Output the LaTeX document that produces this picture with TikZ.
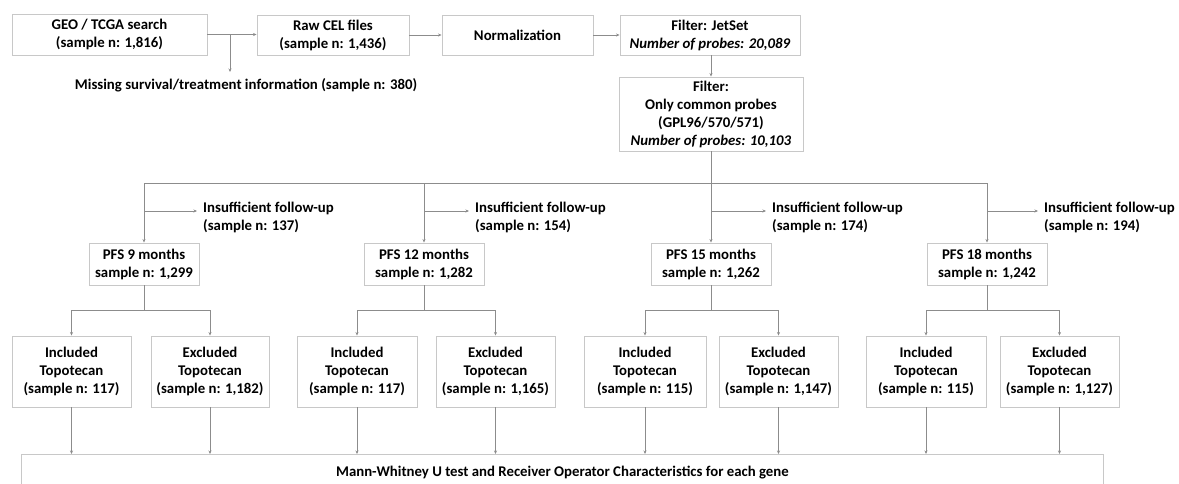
\documentclass[tikz,border=0pt]{standalone}
\usepackage{fontspec}
\setmainfont{Carlito}
\usetikzlibrary{arrows.meta}
\definecolor{boxgray}{RGB}{200,200,200}
\definecolor{linegray}{RGB}{140,140,140}
\begin{document}
\begin{tikzpicture}[x=1pt,y=-1pt,
  every node/.style={font=\fontsize{14.8}{18}\selectfont\bfseries, align=center, inner sep=0pt},
  box/.style={draw=boxgray, line width=0.9pt},
  conn/.style={draw=linegray, line width=1pt},
  arr/.style={conn, -{Stealth[length=3.5pt,width=3pt]}}]
\useasboundingbox[fill=white] (0,0) rectangle (1179,483);

% top row
\node[box, minimum width=195pt, minimum height=41pt] (geo) at (109.5,34.5) {GEO / TCGA search\\(sample n: 1,816)};
\node[box, minimum width=152pt, minimum height=40pt] (raw) at (333,35) {Raw CEL files\\(sample n: 1,436)};
\node[box, minimum width=151pt, minimum height=40pt] (norm) at (517.5,35) {Normalization};
\node[box, minimum width=180pt, minimum height=40pt] (jet) at (710,35) {Filter: JetSet\\\textit{Number of probes: 20,089}};
\node (missing) at (246,85) {Missing survival/treatment information (sample n: 380)};
\node[box, minimum width=184pt, minimum height=74pt] (filt) at (711,114) {Filter:\\Only common probes\\(GPL96/570/571)\\\textit{Number of probes: 10,103}};

\draw[arr] (geo.east) -- (geo.east -| raw.west);
\draw[arr] (raw) -- (norm);
\draw[arr] (norm) -- (jet);
\coordinate (br) at (230,34.5);
\coordinate (brend) at (230,72);
\draw[arr] (br) -- (brend);
\draw[arr] (jet.south -| filt.north) -- (filt.north);

% PFS boxes
\node[box, minimum width=110pt, minimum height=42pt] (pfs1) at (144,264) {PFS 9 months\\sample n: 1,299};
\node[box, minimum width=120pt, minimum height=42pt] (pfs2) at (424,264) {PFS 12 months\\sample n: 1,282};
\node[box, minimum width=120pt, minimum height=42pt] (pfs3) at (711,264) {PFS 15 months\\sample n: 1,262};
\node[box, minimum width=120pt, minimum height=42pt] (pfs4) at (987,264) {PFS 18 months\\sample n: 1,242};

\coordinate (bus1) at (144,183);
\coordinate (bus4) at (987,183);
\draw[conn] (bus1) -- (bus4);
\draw[arr] (filt.south) -- (pfs3.north);
\draw[arr] (pfs1.north |- bus1) -- (pfs1.north);
\draw[arr] (pfs2.north |- bus1) -- (pfs2.north);
\draw[arr] (pfs4.north |- bus1) -- (pfs4.north);

% insufficient follow-up
\node[anchor=west, align=left] (ins1) at (203,217) {Insufficient follow-up\\(sample n: 137)};
\node[anchor=west, align=left] (ins2) at (475,217) {Insufficient follow-up\\(sample n: 154)};
\node[anchor=west, align=left] (ins3) at (772,217) {Insufficient follow-up\\(sample n: 174)};
\node[anchor=west, align=left] (ins4) at (1044,217) {Insufficient follow-up\\(sample n: 194)};
\foreach \i/\x/\e in {1/144/197, 2/424/469, 3/711/766, 4/987/1038}{
  \coordinate (s\i) at (\x,211);
  \coordinate (e\i) at (\e,211);
  \draw[arr] (s\i) -- (e\i);
}

% included / excluded
\node[box, minimum width=119pt, minimum height=71pt] (inc1) at (71.5,371.5) {Included\\Topotecan\\(sample n: 117)};
\node[box, minimum width=118pt, minimum height=71pt] (exc1) at (210,371.5) {Excluded\\Topotecan\\(sample n: 1,182)};
\node[box, minimum width=120pt, minimum height=71pt] (inc2) at (357,371.5) {Included\\Topotecan\\(sample n: 117)};
\node[box, minimum width=119pt, minimum height=71pt] (exc2) at (495.5,371.5) {Excluded\\Topotecan\\(sample n: 1,165)};
\node[box, minimum width=122pt, minimum height=71pt] (inc3) at (645,371.5) {Included\\Topotecan\\(sample n: 115)};
\node[box, minimum width=119pt, minimum height=71pt] (exc3) at (778.5,371.5) {Excluded\\Topotecan\\(sample n: 1,147)};
\node[box, minimum width=120pt, minimum height=71pt] (inc4) at (926,371.5) {Included\\Topotecan\\(sample n: 115)};
\node[box, minimum width=119pt, minimum height=71pt] (exc4) at (1059.5,371.5) {Excluded\\Topotecan\\(sample n: 1,127)};

\foreach \i in {1,2,3,4}{
  \coordinate (f\i) at ([yshift=-25pt]pfs\i.south);
  \draw[conn] (pfs\i.south) -- (f\i);
  \draw[conn] (inc\i.north |- f\i) -- (exc\i.north |- f\i);
  \draw[arr] (inc\i.north |- f\i) -- (inc\i.north);
  \draw[arr] (exc\i.north |- f\i) -- (exc\i.north);
}

% bottom box
\node[box, anchor=north west, minimum width=1082pt, minimum height=36pt] (mw) at (21,454) {Mann-Whitney U test and Receiver Operator Characteristics for each gene};
\foreach \n in {inc1,exc1,inc2,exc2,inc3,exc3,inc4,exc4}{
  \draw[arr] (\n.south) -- (\n.south |- mw.north);
}
\end{tikzpicture}
\end{document}
